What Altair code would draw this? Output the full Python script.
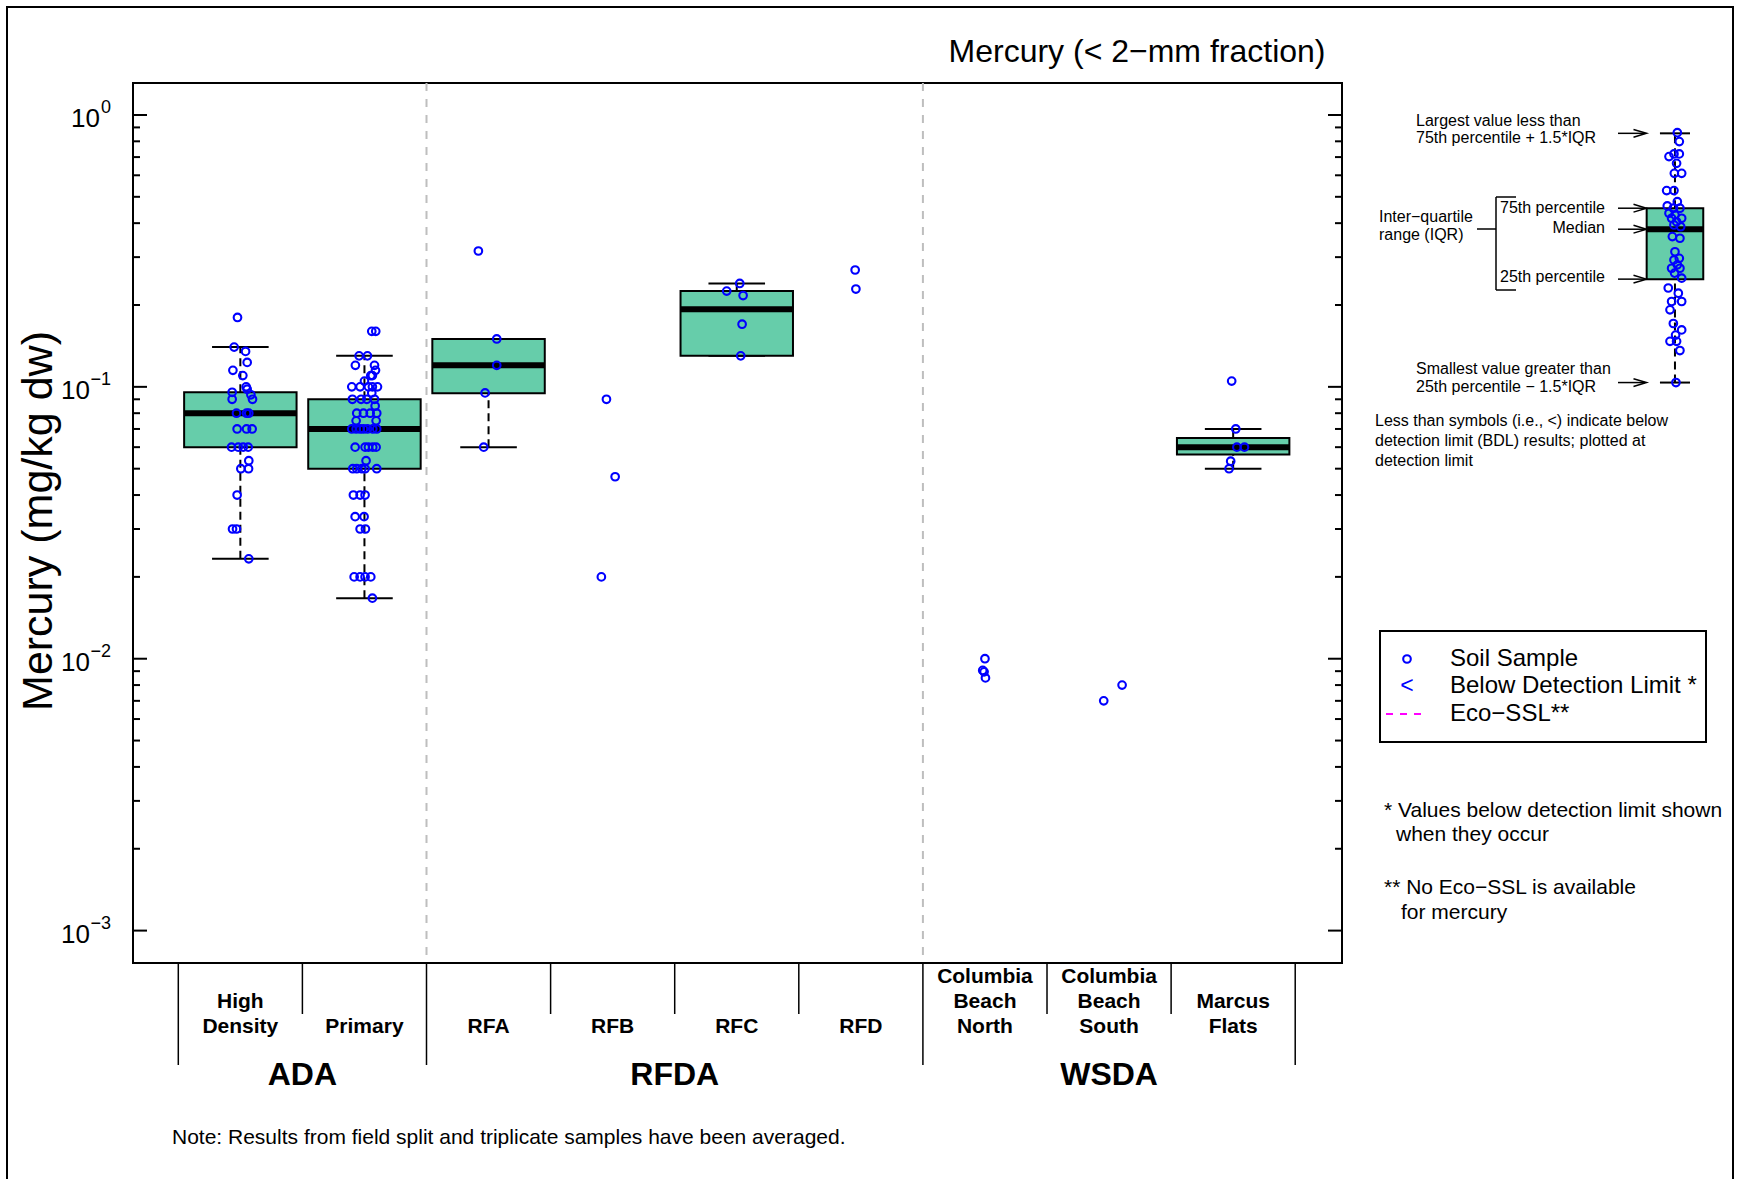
import altair as alt
import pandas as pd

FONT = "Liberation Sans"

# ---------------- categories along the x axis ----------------
sites = ["High Density", "Primary", "RFA", "RFB", "RFC", "RFD",
         "Columbia Beach North", "Columbia Beach South", "Marcus Flats"]
site_pos = [1, 2, 3, 4, 5, 6, 7, 8, 9]
site_label_lines = [["High", "Density"], ["Primary"], ["RFA"], ["RFB"], ["RFC"], ["RFD"],
                    ["Columbia", "Beach", "North"], ["Columbia", "Beach", "South"],
                    ["Marcus", "Flats"]]
areas = ["ADA", "RFDA", "WSDA"]
area_centers = [1.5, 4.5, 8.0]
area_edges = [0.5, 2.5, 6.5, 9.5]
site_edges = [1.5, 3.5, 4.5, 5.5, 7.5, 8.5]
area_dividers = [2.5, 6.5]

# ---------------- mercury results, mg/kg dw (with horizontal jitter) ----------------
hg_high_density = [0.180, 0.140, 0.135, 0.123, 0.115, 0.110, 0.100, 0.098, 0.0955, 0.0935,
                   0.090, 0.090, 0.080, 0.080, 0.080, 0.070, 0.070, 0.070, 0.060, 0.060,
                   0.060, 0.060, 0.0535, 0.050, 0.050, 0.040, 0.030, 0.030, 0.0233]
jit_high_density = [-0.023, -0.050, 0.042, 0.055, -0.060, 0.020, 0.047, 0.055, -0.066, 0.085,
                    -0.066, 0.098, -0.031, 0.050, 0.068, -0.026, 0.050, 0.095, -0.071, -0.017,
                    0.023, 0.063, 0.068, 0.004, 0.066, -0.026, -0.063, -0.031, 0.068]

hg_primary = [0.16, 0.16, 0.13, 0.13, 0.12, 0.12, 0.115, 0.11, 0.11, 0.105,
              0.10, 0.10, 0.10, 0.10, 0.10, 0.095, 0.09, 0.09, 0.09, 0.09,
              0.085, 0.08, 0.08, 0.08, 0.08, 0.075, 0.075,
              0.07, 0.07, 0.07, 0.07, 0.07, 0.07, 0.07,
              0.06, 0.06, 0.06, 0.06, 0.06, 0.0535,
              0.05, 0.05, 0.05, 0.05, 0.05, 0.04, 0.04, 0.04,
              0.0333, 0.0333, 0.03, 0.03, 0.02, 0.02, 0.02, 0.02, 0.0167]
jit_primary = [0.059, 0.091, -0.043, 0.024, -0.073, 0.081, 0.089, 0.051, 0.064, 0.000,
               -0.102, -0.035, 0.032, 0.064, 0.105, 0.059, -0.097, -0.027, 0.019, 0.081,
               0.086, -0.062, -0.008, 0.046, 0.099, -0.067, 0.094,
               -0.102, -0.067, -0.035, -0.008, 0.024, 0.067, 0.099,
               -0.075, 0.005, 0.032, 0.067, 0.094, 0.013,
               -0.094, -0.062, -0.021, 0.005, 0.099, -0.089, -0.035, 0.005,
               -0.075, -0.003, -0.035, 0.008, -0.083, -0.035, 0.005, 0.051, 0.064]

hg_rfa = [0.316, 0.150, 0.120, 0.095, 0.060]
jit_rfa = [-0.082, 0.066, 0.066, -0.028, -0.039]
hg_rfb = [0.090, 0.0467, 0.020]
jit_rfb = [-0.050, 0.020, -0.091]
hg_rfc = [0.240, 0.225, 0.2167, 0.170, 0.130]
jit_rfc = [0.024, -0.081, 0.051, 0.043, 0.032]
hg_rfd = [0.269, 0.229]
jit_rfd = [-0.046, -0.040]
hg_cbn = [0.0100, 0.00906, 0.00895, 0.0085]
jit_cbn = [0.000, -0.018, -0.007, 0.004]
hg_cbs = [0.0080, 0.0070]
jit_cbs = [0.105, -0.043]
hg_marcus = [0.105, 0.070, 0.060, 0.060, 0.0533, 0.050]
jit_marcus = [-0.012, 0.021, 0.030, 0.091, -0.020, -0.033]

site_values = [hg_high_density, hg_primary, hg_rfa, hg_rfb, hg_rfc, hg_rfd,
               hg_cbn, hg_cbs, hg_marcus]
site_jitter = [jit_high_density, jit_primary, jit_rfa, jit_rfb, jit_rfc, jit_rfd,
               jit_cbn, jit_cbs, jit_marcus]

# ---------------- box statistics (sites with enough samples) ----------------
box_sites = ["High Density", "Primary", "RFA", "RFC", "Marcus Flats"]
box_pos = [1, 2, 3, 5, 9]
box_q1 = [0.0600, 0.0500, 0.0948, 0.130, 0.0564]
box_med = [0.0800, 0.0700, 0.1200, 0.193, 0.0600]
box_q3 = [0.0956, 0.0900, 0.1500, 0.225, 0.0649]
box_lo = [0.0233, 0.0167, 0.0600, 0.130, 0.0500]
box_hi = [0.1400, 0.1300, 0.1500, 0.240, 0.0700]

# ---------------- explanatory box drawn in the right margin ----------------
key_x = 12.56
key_q1, key_med, key_q3, key_lo, key_hi = 0.249, 0.380, 0.454, 0.1037, 0.856
key_vals = [0.861, 0.798, 0.703, 0.719, 0.719, 0.664, 0.610, 0.610, 0.527, 0.527,
            0.480, 0.463, 0.454, 0.454, 0.435, 0.429, 0.417, 0.417, 0.405, 0.394,
            0.388, 0.357, 0.352, 0.314, 0.293, 0.297, 0.281, 0.273, 0.273, 0.262,
            0.251, 0.231, 0.221, 0.206, 0.206, 0.192, 0.171, 0.162, 0.155, 0.147,
            0.147, 0.136, 0.1037]
key_jit = [0.019, 0.035, -0.048, -0.008, 0.035, 0.013, -0.005, 0.054, -0.067, -0.008,
           0.019, -0.062, -0.013, 0.040, -0.048, 0.000, -0.027, 0.054, 0.013, -0.008,
           0.046, -0.021, 0.040, 0.000, -0.008, 0.035, 0.019, -0.027, 0.040, -0.003,
           0.054, -0.054, 0.027, -0.027, 0.054, -0.040, -0.013, 0.054, 0.005, -0.040,
           0.013, 0.040, 0.008]

# ---------------- y axis ticks ----------------
major_ticks = [1, 0.1, 0.01, 0.001]
major_exp = ["0", "\u22121", "\u22122", "\u22123"]
minor_ticks = [0.9, 0.8, 0.7, 0.6, 0.5, 0.4, 0.3, 0.2,
               0.09, 0.08, 0.07, 0.06, 0.05, 0.04, 0.03, 0.02,
               0.009, 0.008, 0.007, 0.006, 0.005, 0.004, 0.003, 0.002]

# ---------------- layout ----------------
W, H = 1209, 880
XS = alt.Scale(domain=[0.135, 9.877], nice=False, zero=False)
YS = alt.Scale(type="log", domain=[0.00076, 1.311], nice=False)
BOX_HW, CAP_HW = 0.453, 0.228
KEY_BOX_HW, KEY_CAP_HW = 0.228, 0.121
FILL = "#66CDAA"
PT_SIZE, PT_STROKE = 58, 2.1


def xq(field):
    return alt.X(field, type="quantitative", scale=XS, axis=None)


def yq(field):
    return alt.Y(field, type="quantitative", scale=YS, axis=None)


def one():
    return pd.DataFrame({"k": [0]})


def text(t, x, y, size, align="left", weight="normal", color="black", angle=0):
    return alt.Chart(pd.DataFrame({"t": [t]})).mark_text(
        align=align, baseline="middle", fontSize=size, fontWeight=weight,
        color=color, font=FONT, angle=angle
    ).encode(x=alt.value(x), y=alt.value(y), text="t:N")


def seg(x1, y1, x2, y2, width=1.5, color="black", dash=None):
    kw = dict(color=color, strokeWidth=width)
    if dash:
        kw["strokeDash"] = dash
    return alt.Chart(one()).mark_rule(**kw).encode(
        x=alt.value(x1), x2=alt.value(x2), y=alt.value(y1), y2=alt.value(y2))


def box_layers(df, hw, cap):
    base = alt.Chart(df).transform_calculate(
        xl=f"datum.pos - {hw}", xr=f"datum.pos + {hw}",
        cl=f"datum.pos - {cap}", cr=f"datum.pos + {cap}")
    whisk_up = base.mark_rule(color="black", strokeWidth=2, strokeDash=[8, 5]).encode(
        x=xq("pos"), y=yq("q3"), y2="hi:Q")
    whisk_dn = base.mark_rule(color="black", strokeWidth=2, strokeDash=[8, 5]).encode(
        x=xq("pos"), y=yq("lo"), y2="q1:Q")
    cap_up = base.mark_rule(color="black", strokeWidth=2).encode(
        x=xq("cl"), x2="cr:Q", y=yq("hi"))
    cap_dn = base.mark_rule(color="black", strokeWidth=2).encode(
        x=xq("cl"), x2="cr:Q", y=yq("lo"))
    box = base.mark_rect(fill=FILL, stroke="black", strokeWidth=2).encode(
        x=xq("xl"), x2="xr:Q", y=yq("q1"), y2="q3:Q")
    med = base.mark_rule(color="black", strokeWidth=6).encode(
        x=xq("xl"), x2="xr:Q", y=yq("med"))
    return [whisk_up, whisk_dn, cap_up, cap_dn, box, med]


def points_layer(df):
    return alt.Chart(df).transform_calculate(xj="datum.pos + datum.jit").mark_point(
        shape="circle", filled=False, color="#0000FF", size=PT_SIZE, strokeWidth=PT_STROKE,
        opacity=1
    ).encode(x=xq("xj"), y=yq("hg"))


# ---------------- tables ----------------
pts = pd.DataFrame(
    [{"site": s, "pos": p, "hg": v, "jit": j}
     for s, p, vals, jits in zip(sites, site_pos, site_values, site_jitter)
     for v, j in zip(vals, jits)])
boxes = pd.DataFrame({"site": box_sites, "pos": box_pos, "q1": box_q1, "med": box_med,
                      "q3": box_q3, "lo": box_lo, "hi": box_hi})
key_box = pd.DataFrame({"pos": [key_x], "q1": [key_q1], "med": [key_med], "q3": [key_q3],
                        "lo": [key_lo], "hi": [key_hi]})
key_pts = pd.DataFrame({"pos": key_x, "hg": key_vals, "jit": key_jit})
key_arrows = pd.DataFrame({"v": [key_hi, key_q3, key_med, key_q1, key_lo]})

label_rows = []
for p, lines in zip(site_pos, site_label_lines):
    n = len(lines)
    for i, ln in enumerate(lines):
        label_rows.append({"pos": p, "line": ln, "row": n - 1 - i})
site_labels = pd.DataFrame(label_rows)

layers = []

# dashed dividers between study areas
layers.append(alt.Chart(pd.DataFrame({"x": area_dividers})).mark_rule(
    color="#BEBEBE", strokeWidth=2, strokeDash=[8, 8]).encode(
    x=xq("x"), y=alt.value(0), y2=alt.value(H)))

layers += box_layers(boxes, BOX_HW, CAP_HW)
layers.append(points_layer(pts))

# y ticks, inside on both sides
maj = pd.DataFrame({"v": major_ticks, "e": major_exp})
mnr = pd.DataFrame({"v": minor_ticks})
layers.append(alt.Chart(maj).mark_rule(color="black", strokeWidth=2).encode(
    y=yq("v"), x=alt.value(0), x2=alt.value(14)))
layers.append(alt.Chart(mnr).mark_rule(color="black", strokeWidth=2).encode(
    y=yq("v"), x=alt.value(0), x2=alt.value(7)))
layers.append(alt.Chart(maj).mark_rule(color="black", strokeWidth=2).encode(
    y=yq("v"), x=alt.value(W), x2=alt.value(W - 14)))
layers.append(alt.Chart(mnr).mark_rule(color="black", strokeWidth=2).encode(
    y=yq("v"), x=alt.value(W), x2=alt.value(W - 7)))

# tick labels written as 10 with a raised exponent
layers.append(alt.Chart(maj).mark_text(
    align="right", baseline="middle", fontSize=18, font=FONT, dy=-7).encode(
    y=yq("v"), x=alt.value(-22), text="e:N"))
layers.append(alt.Chart(maj).transform_filter("datum.v == 1").mark_text(
    align="right", baseline="middle", fontSize=26, font=FONT, dy=4).encode(
    y=yq("v"), x=alt.value(-33), text=alt.value("10")))
layers.append(alt.Chart(maj).transform_filter("datum.v < 1").mark_text(
    align="right", baseline="middle", fontSize=26, font=FONT, dy=4).encode(
    y=yq("v"), x=alt.value(-43), text=alt.value("10")))

# category guide under the plot
layers.append(alt.Chart(pd.DataFrame({"x": area_edges})).mark_rule(
    color="black", strokeWidth=1.5).encode(x=xq("x"), y=alt.value(H), y2=alt.value(982)))
layers.append(alt.Chart(pd.DataFrame({"x": site_edges})).mark_rule(
    color="black", strokeWidth=1.5).encode(x=xq("x"), y=alt.value(H), y2=alt.value(931)))
for r, ypix in [(0, 944), (1, 919), (2, 894)]:
    layers.append(alt.Chart(site_labels).transform_filter(f"datum.row == {r}").mark_text(
        align="center", baseline="middle", fontSize=21, fontWeight="bold", font=FONT).encode(
        x=xq("pos"), y=alt.value(ypix), text="line:N"))
layers.append(alt.Chart(pd.DataFrame({"a": areas, "x": area_centers})).mark_text(
    align="center", baseline="middle", fontSize=32, fontWeight="bold", font=FONT).encode(
    x=xq("x"), y=alt.value(992), text="a:N"))

# titles and note
layers.append(text("Mercury (< 2\u2212mm fraction)", 1004, -31, 32, align="center"))
layers.append(text("Mercury (mg/kg dw)", -94, 438, 43, align="center", angle=270))
layers.append(text("Note: Results from field split and triplicate samples have been averaged.",
                   39, 1055, 21))

# explanatory boxplot
layers += box_layers(key_box, KEY_BOX_HW, KEY_CAP_HW)
layers.append(points_layer(key_pts))
layers.append(alt.Chart(key_arrows).mark_rule(color="black", strokeWidth=1.5).encode(
    y=yq("v"), x=alt.value(1485), x2=alt.value(1512)))
layers.append(alt.Chart(key_arrows).mark_point(
    shape="M -1 -0.6 L 1 0 L -1 0.6", filled=False, color="black", strokeWidth=1.5,
    size=169, opacity=1).encode(y=yq("v"), x=alt.value(1507)))
KT = 16
layers += [
    text("Largest value less than", 1283, 38, KT),
    text("75th percentile + 1.5*IQR", 1283, 55, KT),
    text("75th percentile", 1472, 125, KT, align="right"),
    text("Median", 1472, 145, KT, align="right"),
    text("25th percentile", 1472, 194, KT, align="right"),
    text("Inter\u2212quartile", 1246, 134, KT),
    text("range (IQR)", 1246, 152, KT),
    text("Smallest value greater than", 1283, 286, KT),
    text("25th percentile \u2212 1.5*IQR", 1283, 304, KT),
    text("Less than symbols (i.e., <) indicate below", 1242, 338, KT),
    text("detection limit (BDL) results; plotted at", 1242, 358, KT),
    text("detection limit", 1242, 378, KT),
    seg(1363, 114, 1363, 207),
    seg(1363, 114, 1383, 114),
    seg(1363, 207, 1383, 207),
    seg(1344, 146, 1363, 146),
]

# legend
layers.append(alt.Chart(one()).mark_rect(fillOpacity=0, stroke="black", strokeWidth=2).encode(
    x=alt.value(1247), x2=alt.value(1573), y=alt.value(548), y2=alt.value(659)))
layers.append(alt.Chart(one()).mark_point(
    shape="circle", filled=False, color="#0000FF", size=PT_SIZE, strokeWidth=PT_STROKE,
    opacity=1).encode(x=alt.value(1274), y=alt.value(576)))
layers.append(text("<", 1274, 603, 23, align="center", color="#0000FF"))
layers.append(seg(1253, 631, 1292, 631, width=2, color="#FF00FF", dash=[7, 7]))
layers += [
    text("Soil Sample", 1317, 576, 24),
    text("Below Detection Limit *", 1317, 603, 24),
    text("Eco\u2212SSL**", 1317, 631, 24),
    text("* Values below detection limit shown", 1251, 728, 21),
    text("when they occur", 1263, 752, 21),
    text("** No Eco\u2212SSL is available", 1251, 805, 21),
    text("for mercury", 1268, 830, 21),
]

# outer frame of the figure
layers.append(alt.Chart(one()).mark_rect(fillOpacity=0, stroke="black", strokeWidth=2).encode(
    x=alt.value(-126), x2=alt.value(1600), y=alt.value(-76), y2=alt.value(1110)))

chart = alt.layer(*layers).properties(
    width=W, height=H,
    autosize=alt.AutoSizeParams(type="none"),
    padding={"left": 133, "top": 83, "right": 395, "bottom": 216},
    background="white",
).configure_view(stroke="black", strokeWidth=2)

chart.save("out.html", embed_options={"renderer": "svg", "actions": False})
